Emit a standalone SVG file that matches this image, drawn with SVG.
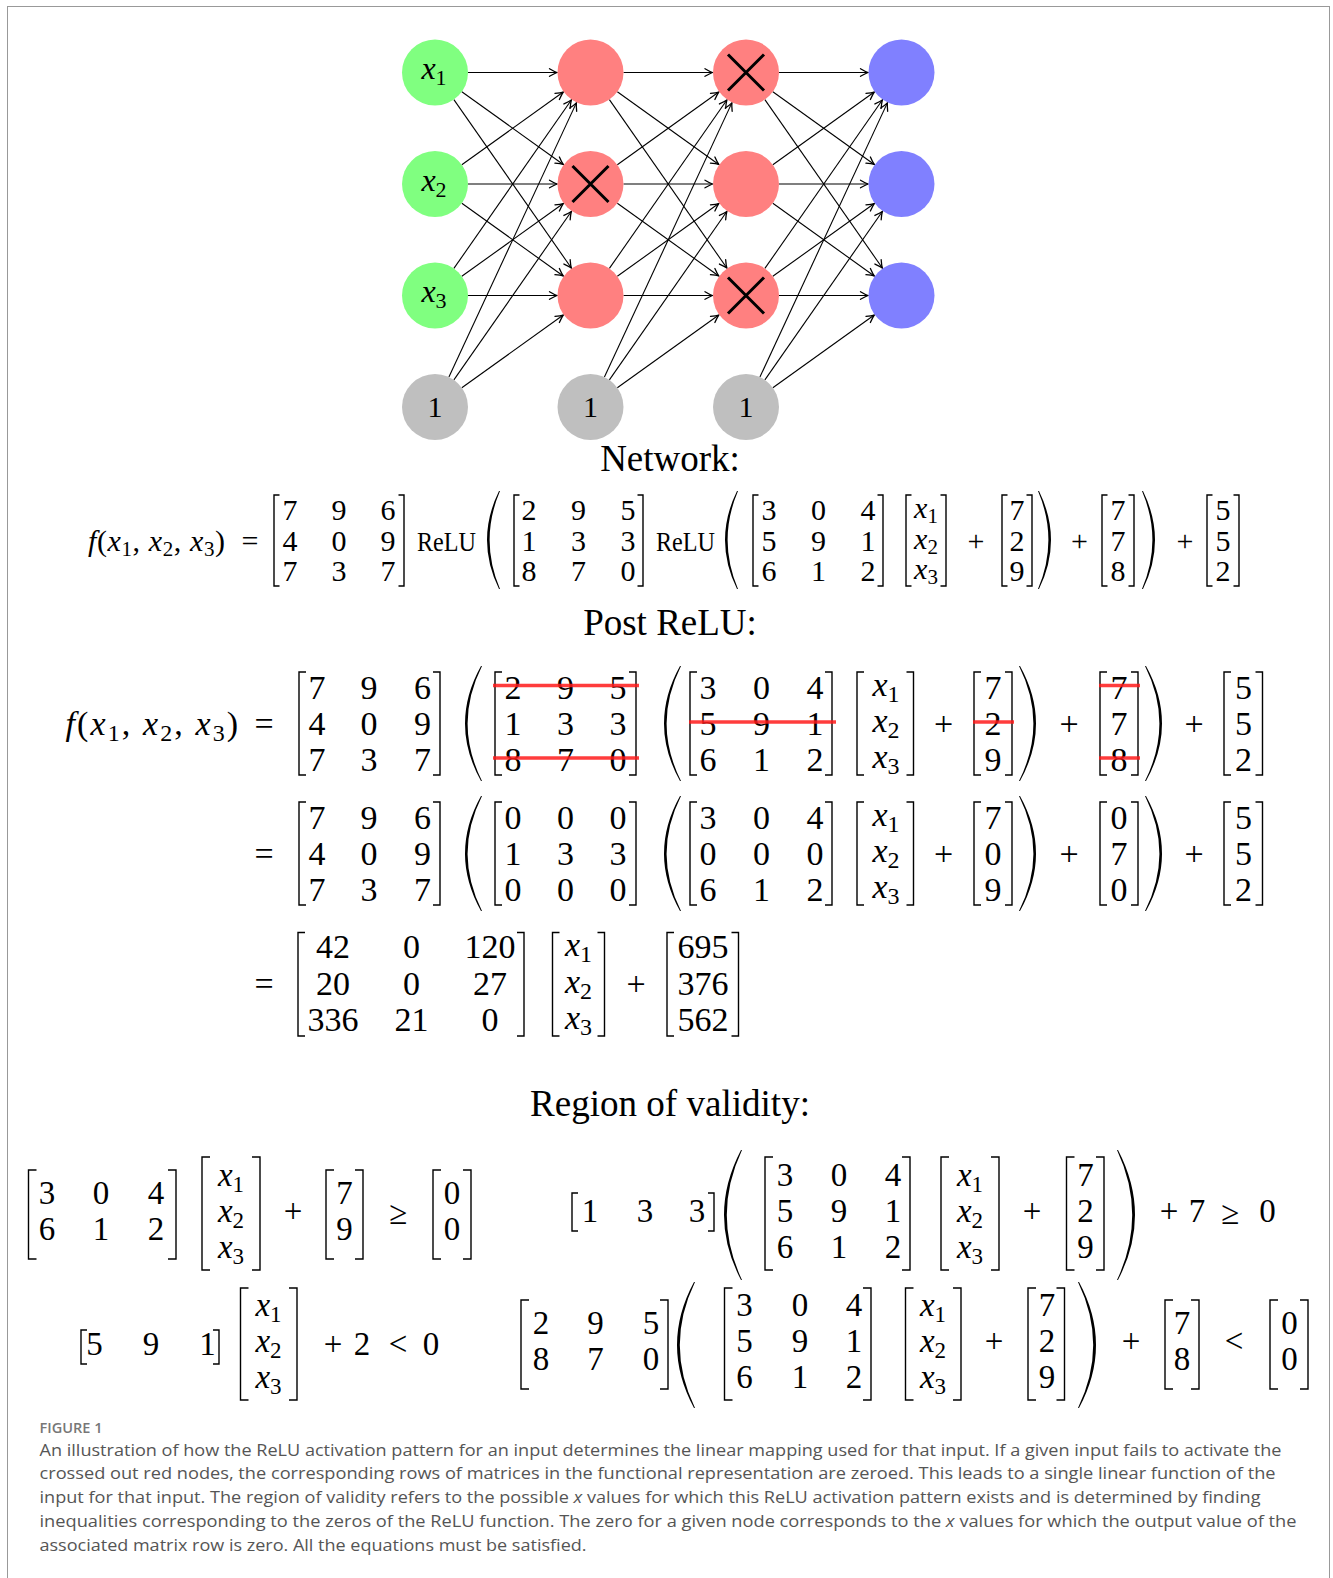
<svg xmlns="http://www.w3.org/2000/svg" width="1333" height="1578" viewBox="0 0 1333 1578">
<defs>
<style>
text{font-family:"Liberation Serif","DejaVu Serif",serif;fill:#000}
.c{text-anchor:middle}
.i{font-style:italic}
.e1{font-size:30px}
.e2{font-size:34px}
.e3{font-size:33px}
.s1{font-size:21px}
.s2{font-size:24px}
.s3{font-size:23px}
.nl{font-size:32px}
.ns{font-size:22px}
.t{font-size:37px;text-anchor:middle}
.br{fill:none;stroke:#000;stroke-width:1.4}
.pa{fill:#000;stroke:none}
.rl{stroke:#ff1a1a;stroke-opacity:.85;stroke-width:3.6}
.ed{stroke:#000;stroke-width:1.1;marker-end:url(#ah)}
.xm{stroke:#000;stroke-width:3}
.cap{font-family:"Open Sans","Noto Sans",sans-serif;font-size:17px;fill:#555}
.fig{font-family:"Open Sans","Noto Sans",sans-serif;font-size:14px;font-weight:600;fill:#777}
</style>
<marker id="ah" viewBox="-9 -5 10 10" refX="0" refY="0" markerWidth="10" markerHeight="10" markerUnits="userSpaceOnUse" orient="auto" overflow="visible">
<path d="M-7.5,-3.8 Q-2.6,-0.9 0,0 Q-2.6,0.9 -7.5,3.8" fill="none" stroke="#000" stroke-width="1.3" stroke-linecap="round"/>
</marker>
</defs>
<rect x="0" y="0" width="1333" height="1578" fill="#fff"/>
<rect x="7.5" y="6.5" width="1322" height="1600" fill="none" stroke="#999" stroke-width="1"/>

<g id="connectors">
<line class="ed" x1="468" y1="72.5" x2="557" y2="72.5"/>
<line class="ed" x1="461.82" y1="91.73" x2="563.27" y2="164.48"/>
<line class="ed" x1="453.88" y1="99.57" x2="571.34" y2="268.02"/>
<line class="ed" x1="461.82" y1="164.77" x2="563.27" y2="92.02"/>
<line class="ed" x1="468" y1="184" x2="557" y2="184"/>
<line class="ed" x1="461.82" y1="203.23" x2="563.27" y2="275.98"/>
<line class="ed" x1="453.88" y1="268.43" x2="571.34" y2="99.98"/>
<line class="ed" x1="461.82" y1="276.27" x2="563.27" y2="203.52"/>
<line class="ed" x1="468" y1="295.5" x2="557" y2="295.5"/>
<line class="ed" x1="448.91" y1="377.08" x2="576.38" y2="102.88"/>
<line class="ed" x1="453.88" y1="379.93" x2="571.34" y2="211.48"/>
<line class="ed" x1="461.82" y1="387.77" x2="563.27" y2="315.02"/>

<line class="ed" x1="623.5" y1="72.5" x2="712.5" y2="72.5"/>
<line class="ed" x1="617.32" y1="91.73" x2="718.77" y2="164.48"/>
<line class="ed" x1="609.38" y1="99.57" x2="726.84" y2="268.02"/>
<line class="ed" x1="617.32" y1="164.77" x2="718.77" y2="92.02"/>
<line class="ed" x1="623.5" y1="184" x2="712.5" y2="184"/>
<line class="ed" x1="617.32" y1="203.23" x2="718.77" y2="275.98"/>
<line class="ed" x1="609.38" y1="268.43" x2="726.84" y2="99.98"/>
<line class="ed" x1="617.32" y1="276.27" x2="718.77" y2="203.52"/>
<line class="ed" x1="623.5" y1="295.5" x2="712.5" y2="295.5"/>
<line class="ed" x1="604.41" y1="377.08" x2="731.88" y2="102.88"/>
<line class="ed" x1="609.38" y1="379.93" x2="726.84" y2="211.48"/>
<line class="ed" x1="617.32" y1="387.77" x2="718.77" y2="315.02"/>

<line class="ed" x1="779" y1="72.5" x2="868" y2="72.5"/>
<line class="ed" x1="772.82" y1="91.73" x2="874.27" y2="164.48"/>
<line class="ed" x1="764.88" y1="99.57" x2="882.34" y2="268.02"/>
<line class="ed" x1="772.82" y1="164.77" x2="874.27" y2="92.02"/>
<line class="ed" x1="779" y1="184" x2="868" y2="184"/>
<line class="ed" x1="772.82" y1="203.23" x2="874.27" y2="275.98"/>
<line class="ed" x1="764.88" y1="268.43" x2="882.34" y2="99.98"/>
<line class="ed" x1="772.82" y1="276.27" x2="874.27" y2="203.52"/>
<line class="ed" x1="779" y1="295.5" x2="868" y2="295.5"/>
<line class="ed" x1="759.91" y1="377.08" x2="887.38" y2="102.88"/>
<line class="ed" x1="764.88" y1="379.93" x2="882.34" y2="211.48"/>
<line class="ed" x1="772.82" y1="387.77" x2="874.27" y2="315.02"/>
</g>

<g id="in1"><circle cx="435" cy="72.5" r="33" fill="#80ff80"/><text class="nl c" x="434" y="79"><tspan class="i">x</tspan><tspan class="ns" dy="6">1</tspan></text></g>
<g id="in2"><circle cx="435" cy="184" r="33" fill="#80ff80"/><text class="nl c" x="434" y="190.5"><tspan class="i">x</tspan><tspan class="ns" dy="6">2</tspan></text></g>
<g id="in3"><circle cx="435" cy="295.5" r="33" fill="#80ff80"/><text class="nl c" x="434" y="302"><tspan class="i">x</tspan><tspan class="ns" dy="6">3</tspan></text></g>
<g id="bias1"><circle cx="435" cy="407" r="33" fill="#bfbfbf"/><text class="e1 c" x="435" y="417">1</text></g>

<g id="h1a"><circle cx="590.5" cy="72.5" r="33" fill="#ff8080"/></g>
<g id="h1b"><circle cx="590.5" cy="184" r="33" fill="#ff8080"/><path class="xm" d="M572.5,166L608.5,202M608.5,166L572.5,202"/></g>
<g id="h1c"><circle cx="590.5" cy="295.5" r="33" fill="#ff8080"/></g>
<g id="bias2"><circle cx="590.5" cy="407" r="33" fill="#bfbfbf"/><text class="e1 c" x="590.5" y="417">1</text></g>

<g id="h2a"><circle cx="746" cy="72.5" r="33" fill="#ff8080"/><path class="xm" d="M728,54.5L764,90.5M764,54.5L728,90.5"/></g>
<g id="h2b"><circle cx="746" cy="184" r="33" fill="#ff8080"/></g>
<g id="h2c"><circle cx="746" cy="295.5" r="33" fill="#ff8080"/><path class="xm" d="M728,277.5L764,313.5M764,277.5L728,313.5"/></g>
<g id="bias3"><circle cx="746" cy="407" r="33" fill="#bfbfbf"/><text class="e1 c" x="746" y="417">1</text></g>

<g id="out1"><circle cx="901.5" cy="72.5" r="33" fill="#8080ff"/></g>
<g id="out2"><circle cx="901.5" cy="184" r="33" fill="#8080ff"/></g>
<g id="out3"><circle cx="901.5" cy="295.5" r="33" fill="#8080ff"/></g>

<text class="t" x="670" y="471">Network:</text>

<!-- Equation 1 -->
<g id="eq1">
<text class="e1" x="88" y="550.5" letter-spacing="0.6"><tspan class="i">f</tspan>(<tspan class="i">x</tspan><tspan class="s1" dy="5">1</tspan><tspan dy="-5">, </tspan><tspan class="i">x</tspan><tspan class="s1" dy="5">2</tspan><tspan dy="-5">, </tspan><tspan class="i">x</tspan><tspan class="s1" dy="5">3</tspan><tspan dy="-5">)</tspan></text>
<text class="e1 c" x="250" y="550.5">=</text>
<path class="br" d="M279.5,495H274V586H279.5M398.5,495H404V586H398.5"/>
<text class="e1 c" y="520"><tspan x="290">7</tspan><tspan x="339">9</tspan><tspan x="388">6</tspan></text>
<text class="e1 c" y="550.5"><tspan x="290">4</tspan><tspan x="339">0</tspan><tspan x="388">9</tspan></text>
<text class="e1 c" y="581"><tspan x="290">7</tspan><tspan x="339">3</tspan><tspan x="388">7</tspan></text>
<text x="417" y="550.5" font-size="27" textLength="59" lengthAdjust="spacingAndGlyphs">ReLU</text>
<path class="pa" d="M499,491Q475,540 499,589L500,589Q479.2,540 500,491Z"/>
<path class="br" d="M519.5,495H514V586H519.5M637.5,495H643V586H637.5"/>
<text class="e1 c" y="520"><tspan x="529">2</tspan><tspan x="578.5">9</tspan><tspan x="628">5</tspan></text>
<text class="e1 c" y="550.5"><tspan x="529">1</tspan><tspan x="578.5">3</tspan><tspan x="628">3</tspan></text>
<text class="e1 c" y="581"><tspan x="529">8</tspan><tspan x="578.5">7</tspan><tspan x="628">0</tspan></text>
<text x="656" y="550.5" font-size="27" textLength="59" lengthAdjust="spacingAndGlyphs">ReLU</text>
<path class="pa" d="M737,491Q713,540 737,589L738,589Q717.2,540 738,491Z"/>
<path class="br" d="M758.5,495H753V586H758.5M877.5,495H883V586H877.5"/>
<text class="e1 c" y="520"><tspan x="769">3</tspan><tspan x="818.5">0</tspan><tspan x="868">4</tspan></text>
<text class="e1 c" y="550.5"><tspan x="769">5</tspan><tspan x="818.5">9</tspan><tspan x="868">1</tspan></text>
<text class="e1 c" y="581"><tspan x="769">6</tspan><tspan x="818.5">1</tspan><tspan x="868">2</tspan></text>
<path class="br" d="M911.5,495H906V586H911.5M940.5,495H946V586H940.5"/>
<text class="e1 c" x="926" y="518"><tspan class="i">x</tspan><tspan class="s1" dy="5">1</tspan></text>
<text class="e1 c" x="926" y="548.5"><tspan class="i">x</tspan><tspan class="s1" dy="5">2</tspan></text>
<text class="e1 c" x="926" y="579"><tspan class="i">x</tspan><tspan class="s1" dy="5">3</tspan></text>
<text class="e1 c" x="976" y="550.5">+</text>
<path class="br" d="M1007.5,495H1002V586H1007.5M1026.5,495H1032V586H1026.5"/>
<text class="e1 c" x="1017" y="520">7</text><text class="e1 c" x="1017" y="550.5">2</text><text class="e1 c" x="1017" y="581">9</text>
<path class="pa" d="M1039,491Q1063,540 1039,589L1038,589Q1058.8,540 1038,491Z"/>
<text class="e1 c" x="1079.5" y="550.5">+</text>
<path class="br" d="M1107.5,495H1102V586H1107.5M1128.5,495H1134V586H1128.5"/>
<text class="e1 c" x="1118" y="520">7</text><text class="e1 c" x="1118" y="550.5">7</text><text class="e1 c" x="1118" y="581">8</text>
<path class="pa" d="M1143,491Q1167,540 1143,589L1142,589Q1162.8,540 1142,491Z"/>
<text class="e1 c" x="1185" y="550.5">+</text>
<path class="br" d="M1212.5,495H1207V586H1212.5M1233.5,495H1239V586H1233.5"/>
<text class="e1 c" x="1223" y="520">5</text><text class="e1 c" x="1223" y="550.5">5</text><text class="e1 c" x="1223" y="581">2</text>
</g>

<text class="t" x="670" y="635">Post ReLU:</text>

<!-- Equation 2 -->
<g id="eq2">
<text class="e2" x="65.5" y="734.5" letter-spacing="2.1"><tspan class="i">f</tspan>(<tspan class="i">x</tspan><tspan class="s2" dy="6">1</tspan><tspan dy="-6">, </tspan><tspan class="i">x</tspan><tspan class="s2" dy="6">2</tspan><tspan dy="-6">, </tspan><tspan class="i">x</tspan><tspan class="s2" dy="6">3</tspan><tspan dy="-6">)</tspan></text>
<text class="e2 c" x="264" y="734.5">=</text>
<path class="br" d="M306,672H299V775H306M433,672H440V775H433"/>
<text class="e2 c" y="698.5"><tspan x="317">7</tspan><tspan x="369">9</tspan><tspan x="422.5">6</tspan></text>
<text class="e2 c" y="734.5"><tspan x="317">4</tspan><tspan x="369">0</tspan><tspan x="422.5">9</tspan></text>
<text class="e2 c" y="770.5"><tspan x="317">7</tspan><tspan x="369">3</tspan><tspan x="422.5">7</tspan></text>
<path class="pa" d="M481,666Q449,723.5 481,781L482,781Q453.2,723.5 482,666Z"/>
<path class="br" d="M502,672H495V775H502M629,672H636V775H629"/>
<text class="e2 c" y="698.5"><tspan x="513">2</tspan><tspan x="565.5">9</tspan><tspan x="618">5</tspan></text>
<text class="e2 c" y="734.5"><tspan x="513">1</tspan><tspan x="565.5">3</tspan><tspan x="618">3</tspan></text>
<text class="e2 c" y="770.5"><tspan x="513">8</tspan><tspan x="565.5">7</tspan><tspan x="618">0</tspan></text>
<path class="pa" d="M680,666Q648,723.5 680,781L681,781Q652.2,723.5 681,666Z"/>
<path class="br" d="M697,672H690V775H697M825,672H832V775H825"/>
<text class="e2 c" y="698.5"><tspan x="708">3</tspan><tspan x="761.5">0</tspan><tspan x="815">4</tspan></text>
<text class="e2 c" y="734.5"><tspan x="708">5</tspan><tspan x="761.5">9</tspan><tspan x="815">1</tspan></text>
<text class="e2 c" y="770.5"><tspan x="708">6</tspan><tspan x="761.5">1</tspan><tspan x="815">2</tspan></text>
<path class="br" d="M864,672H857V775H864M906.5,672H913.5V775H906.5"/>
<text class="e2 c" x="886" y="696"><tspan class="i">x</tspan><tspan class="s2" dy="6">1</tspan></text>
<text class="e2 c" x="886" y="732"><tspan class="i">x</tspan><tspan class="s2" dy="6">2</tspan></text>
<text class="e2 c" x="886" y="768"><tspan class="i">x</tspan><tspan class="s2" dy="6">3</tspan></text>
<text class="e2 c" x="943.5" y="734.5">+</text>
<path class="br" d="M981,672H974V775H981M1005,672H1012V775H1005"/>
<text class="e2 c" x="993" y="698.5">7</text><text class="e2 c" x="993" y="734.5">2</text><text class="e2 c" x="993" y="770.5">9</text>
<path class="pa" d="M1020,666Q1052,723.5 1020,781L1019,781Q1047.8,723.5 1019,666Z"/>
<text class="e2 c" x="1069" y="734.5">+</text>
<path class="br" d="M1107,672H1100V775H1107M1131,672H1138V775H1131"/>
<text class="e2 c" x="1119" y="698.5">7</text><text class="e2 c" x="1119" y="734.5">7</text><text class="e2 c" x="1119" y="770.5">8</text>
<path class="pa" d="M1146,666Q1178,723.5 1146,781L1145,781Q1173.8,723.5 1145,666Z"/>
<text class="e2 c" x="1194" y="734.5">+</text>
<path class="br" d="M1231,672H1224V775H1231M1255.5,672H1262.5V775H1255.5"/>
<text class="e2 c" x="1243.5" y="698.5">5</text><text class="e2 c" x="1243.5" y="734.5">5</text><text class="e2 c" x="1243.5" y="770.5">2</text>
<line class="rl" x1="493" y1="685.5" x2="639" y2="685.5"/>
<line class="rl" x1="493" y1="758" x2="639" y2="758"/>
<line class="rl" x1="689" y1="722" x2="836" y2="722"/>
<line class="rl" x1="973" y1="722" x2="1014" y2="722"/>
<line class="rl" x1="1099" y1="685.5" x2="1140" y2="685.5"/>
<line class="rl" x1="1099" y1="758" x2="1140" y2="758"/>
</g>

<!-- Equation 3 -->
<g id="eq3">
<text class="e2 c" x="264" y="864.5">=</text>
<path class="br" d="M306,802H299V905H306M433,802H440V905H433"/>
<text class="e2 c" y="828.5"><tspan x="317">7</tspan><tspan x="369">9</tspan><tspan x="422.5">6</tspan></text>
<text class="e2 c" y="864.5"><tspan x="317">4</tspan><tspan x="369">0</tspan><tspan x="422.5">9</tspan></text>
<text class="e2 c" y="900.5"><tspan x="317">7</tspan><tspan x="369">3</tspan><tspan x="422.5">7</tspan></text>
<path class="pa" d="M481,796Q449,853.5 481,911L482,911Q453.2,853.5 482,796Z"/>
<path class="br" d="M502,802H495V905H502M629,802H636V905H629"/>
<text class="e2 c" y="828.5"><tspan x="513">0</tspan><tspan x="565.5">0</tspan><tspan x="618">0</tspan></text>
<text class="e2 c" y="864.5"><tspan x="513">1</tspan><tspan x="565.5">3</tspan><tspan x="618">3</tspan></text>
<text class="e2 c" y="900.5"><tspan x="513">0</tspan><tspan x="565.5">0</tspan><tspan x="618">0</tspan></text>
<path class="pa" d="M680,796Q648,853.5 680,911L681,911Q652.2,853.5 681,796Z"/>
<path class="br" d="M697,802H690V905H697M825,802H832V905H825"/>
<text class="e2 c" y="828.5"><tspan x="708">3</tspan><tspan x="761.5">0</tspan><tspan x="815">4</tspan></text>
<text class="e2 c" y="864.5"><tspan x="708">0</tspan><tspan x="761.5">0</tspan><tspan x="815">0</tspan></text>
<text class="e2 c" y="900.5"><tspan x="708">6</tspan><tspan x="761.5">1</tspan><tspan x="815">2</tspan></text>
<path class="br" d="M864,802H857V905H864M906.5,802H913.5V905H906.5"/>
<text class="e2 c" x="886" y="826"><tspan class="i">x</tspan><tspan class="s2" dy="6">1</tspan></text>
<text class="e2 c" x="886" y="862"><tspan class="i">x</tspan><tspan class="s2" dy="6">2</tspan></text>
<text class="e2 c" x="886" y="898"><tspan class="i">x</tspan><tspan class="s2" dy="6">3</tspan></text>
<text class="e2 c" x="943.5" y="864.5">+</text>
<path class="br" d="M981,802H974V905H981M1005,802H1012V905H1005"/>
<text class="e2 c" x="993" y="828.5">7</text><text class="e2 c" x="993" y="864.5">0</text><text class="e2 c" x="993" y="900.5">9</text>
<path class="pa" d="M1020,796Q1052,853.5 1020,911L1019,911Q1047.8,853.5 1019,796Z"/>
<text class="e2 c" x="1069" y="864.5">+</text>
<path class="br" d="M1107,802H1100V905H1107M1131,802H1138V905H1131"/>
<text class="e2 c" x="1119" y="828.5">0</text><text class="e2 c" x="1119" y="864.5">7</text><text class="e2 c" x="1119" y="900.5">0</text>
<path class="pa" d="M1146,796Q1178,853.5 1146,911L1145,911Q1173.8,853.5 1145,796Z"/>
<text class="e2 c" x="1194" y="864.5">+</text>
<path class="br" d="M1231,802H1224V905H1231M1255.5,802H1262.5V905H1255.5"/>
<text class="e2 c" x="1243.5" y="828.5">5</text><text class="e2 c" x="1243.5" y="864.5">5</text><text class="e2 c" x="1243.5" y="900.5">2</text>
</g>

<!-- Equation 4 -->
<g id="eq4">
<text class="e2 c" x="264" y="994.5">=</text>
<path class="br" d="M305,932.5H298V1036H305M517,932.5H524V1036H517"/>
<text class="e2 c" y="958"><tspan x="333">42</tspan><tspan x="411.5">0</tspan><tspan x="490">120</tspan></text>
<text class="e2 c" y="994.5"><tspan x="333">20</tspan><tspan x="411.5">0</tspan><tspan x="490">27</tspan></text>
<text class="e2 c" y="1031"><tspan x="333">336</tspan><tspan x="411.5">21</tspan><tspan x="490">0</tspan></text>
<path class="br" d="M559.5,932.5H552.5V1036H559.5M597.5,932.5H604.5V1036H597.5"/>
<text class="e2 c" x="578.5" y="956"><tspan class="i">x</tspan><tspan class="s2" dy="6">1</tspan></text>
<text class="e2 c" x="578.5" y="992.5"><tspan class="i">x</tspan><tspan class="s2" dy="6">2</tspan></text>
<text class="e2 c" x="578.5" y="1029"><tspan class="i">x</tspan><tspan class="s2" dy="6">3</tspan></text>
<text class="e2 c" x="636" y="994.5">+</text>
<path class="br" d="M674,932.5H667V1036H674M731.5,932.5H738.5V1036H731.5"/>
<text class="e2 c" x="703" y="958">695</text><text class="e2 c" x="703" y="994.5">376</text><text class="e2 c" x="703" y="1031">562</text>
</g>

<text class="t" x="670" y="1116" textLength="280" lengthAdjust="spacingAndGlyphs">Region of validity:</text>

<!-- Region L1 -->
<g id="regL1">
<path class="br" d="M36.5,1170H28.5V1259H36.5M168,1170H176V1259H168"/>
<text class="e3 c" y="1204"><tspan x="47">3</tspan><tspan x="101">0</tspan><tspan x="156">4</tspan></text>
<text class="e3 c" y="1240"><tspan x="47">6</tspan><tspan x="101">1</tspan><tspan x="156">2</tspan></text>
<path class="br" d="M210,1157H202V1270H210M252,1157H260V1270H252"/>
<text class="e3 c" x="231" y="1186"><tspan class="i">x</tspan><tspan class="s3" dy="6">1</tspan></text>
<text class="e3 c" x="231" y="1222"><tspan class="i">x</tspan><tspan class="s3" dy="6">2</tspan></text>
<text class="e3 c" x="231" y="1258"><tspan class="i">x</tspan><tspan class="s3" dy="6">3</tspan></text>
<text class="e3 c" x="293" y="1222">+</text>
<path class="br" d="M334,1170H326V1259H334M355,1170H363V1259H355"/>
<text class="e3 c" x="344.5" y="1204">7</text><text class="e3 c" x="344.5" y="1240">9</text>
<text class="e3 c" x="398" y="1224">≥</text>
<path class="br" d="M441,1170H433V1259H441M463,1170H471V1259H463"/>
<text class="e3 c" x="452" y="1204">0</text><text class="e3 c" x="452" y="1240">0</text>
</g>

<!-- Region L2 -->
<g id="regL2">
<path class="br" d="M87,1330H81V1364H87M213,1330H219V1364H213"/>
<text class="e3 c" y="1355"><tspan x="94.5">5</tspan><tspan x="151">9</tspan><tspan x="207.5">1</tspan></text>
<path class="br" d="M248.5,1288H240.5V1400H248.5M289,1288H297V1400H289"/>
<text class="e3 c" x="268.5" y="1316"><tspan class="i">x</tspan><tspan class="s3" dy="6">1</tspan></text>
<text class="e3 c" x="268.5" y="1352"><tspan class="i">x</tspan><tspan class="s3" dy="6">2</tspan></text>
<text class="e3 c" x="268.5" y="1388"><tspan class="i">x</tspan><tspan class="s3" dy="6">3</tspan></text>
<text class="e3 c" x="333" y="1355">+</text>
<text class="e3 c" x="362" y="1355">2</text>
<text class="e3 c" x="398" y="1355">&lt;</text>
<text class="e3 c" x="431" y="1355">0</text>
</g>

<!-- Region R1 -->
<g id="regR1">
<path class="br" d="M578,1193H572V1231H578M708,1193H714V1231H708"/>
<text class="e3 c" y="1222"><tspan x="590">1</tspan><tspan x="645">3</tspan><tspan x="697">3</tspan></text>
<path class="pa" d="M741,1150Q707,1215 741,1280L742,1280Q711.6,1215 742,1150Z"/>
<path class="br" d="M773,1157H765V1270H773M902,1157H910V1270H902"/>
<text class="e3 c" y="1186"><tspan x="785">3</tspan><tspan x="839">0</tspan><tspan x="893">4</tspan></text>
<text class="e3 c" y="1222"><tspan x="785">5</tspan><tspan x="839">9</tspan><tspan x="893">1</tspan></text>
<text class="e3 c" y="1258"><tspan x="785">6</tspan><tspan x="839">1</tspan><tspan x="893">2</tspan></text>
<path class="br" d="M949,1157H941V1270H949M991,1157H999V1270H991"/>
<text class="e3 c" x="970" y="1186"><tspan class="i">x</tspan><tspan class="s3" dy="6">1</tspan></text>
<text class="e3 c" x="970" y="1222"><tspan class="i">x</tspan><tspan class="s3" dy="6">2</tspan></text>
<text class="e3 c" x="970" y="1258"><tspan class="i">x</tspan><tspan class="s3" dy="6">3</tspan></text>
<text class="e3 c" x="1032" y="1222">+</text>
<path class="br" d="M1074.5,1157H1066.5V1270H1074.5M1096,1157H1104V1270H1096"/>
<text class="e3 c" x="1085.5" y="1186">7</text><text class="e3 c" x="1085.5" y="1222">2</text><text class="e3 c" x="1085.5" y="1258">9</text>
<path class="pa" d="M1118,1150Q1152,1215 1118,1280L1117,1280Q1147.4,1215 1117,1150Z"/>
<text class="e3 c" x="1169" y="1222">+</text>
<text class="e3 c" x="1197" y="1222">7</text>
<text class="e3 c" x="1230" y="1224">≥</text>
<text class="e3 c" x="1267.5" y="1222">0</text>
</g>

<!-- Region R2 -->
<g id="regR2">
<path class="br" d="M529,1300H521V1389H529M660,1300H668V1389H660"/>
<text class="e3 c" y="1334"><tspan x="541">2</tspan><tspan x="595.5">9</tspan><tspan x="651">5</tspan></text>
<text class="e3 c" y="1370"><tspan x="541">8</tspan><tspan x="595.5">7</tspan><tspan x="651">0</tspan></text>
<path class="pa" d="M694,1282Q660,1345 694,1408L695,1408Q664.6,1345 695,1282Z"/>
<path class="br" d="M732.5,1288H724.5V1400H732.5M863,1288H871V1400H863"/>
<text class="e3 c" y="1316"><tspan x="744.5">3</tspan><tspan x="800">0</tspan><tspan x="854">4</tspan></text>
<text class="e3 c" y="1352"><tspan x="744.5">5</tspan><tspan x="800">9</tspan><tspan x="854">1</tspan></text>
<text class="e3 c" y="1388"><tspan x="744.5">6</tspan><tspan x="800">1</tspan><tspan x="854">2</tspan></text>
<path class="br" d="M913.5,1288H905.5V1400H913.5M953,1288H961V1400H953"/>
<text class="e3 c" x="933" y="1316"><tspan class="i">x</tspan><tspan class="s3" dy="6">1</tspan></text>
<text class="e3 c" x="933" y="1352"><tspan class="i">x</tspan><tspan class="s3" dy="6">2</tspan></text>
<text class="e3 c" x="933" y="1388"><tspan class="i">x</tspan><tspan class="s3" dy="6">3</tspan></text>
<text class="e3 c" x="994" y="1352">+</text>
<path class="br" d="M1036,1288H1028V1400H1036M1056.5,1288H1064.5V1400H1056.5"/>
<text class="e3 c" x="1047" y="1316">7</text><text class="e3 c" x="1047" y="1352">2</text><text class="e3 c" x="1047" y="1388">9</text>
<path class="pa" d="M1079,1282Q1113,1345 1079,1408L1078,1408Q1108.4,1345 1078,1282Z"/>
<text class="e3 c" x="1131" y="1352">+</text>
<path class="br" d="M1173,1300H1165V1389H1173M1191,1300H1199V1389H1191"/>
<text class="e3 c" x="1182" y="1334">7</text><text class="e3 c" x="1182" y="1370">8</text>
<text class="e3 c" x="1234" y="1352">&lt;</text>
<path class="br" d="M1278,1300H1270V1389H1278M1300,1300H1308V1389H1300"/>
<text class="e3 c" x="1289.5" y="1334">0</text><text class="e3 c" x="1289.5" y="1370">0</text>
</g>

<!-- Caption -->
<g id="caption">
<text class="fig" x="39.5" y="1432.5" textLength="63" lengthAdjust="spacingAndGlyphs">FIGURE 1</text>
<text class="cap" x="39.5" y="1455.5" textLength="1242" lengthAdjust="spacingAndGlyphs">An illustration of how the ReLU activation pattern for an input determines the linear mapping used for that input. If a given input fails to activate the</text>
<text class="cap" x="39.5" y="1479.4" textLength="1236" lengthAdjust="spacingAndGlyphs">crossed out red nodes, the corresponding rows of matrices in the functional representation are zeroed. This leads to a single linear function of the</text>
<text class="cap" x="39.5" y="1503.3" textLength="1221" lengthAdjust="spacingAndGlyphs">input for that input. The region of validity refers to the possible <tspan font-style="italic">x</tspan> values for which this ReLU activation pattern exists and is determined by finding</text>
<text class="cap" x="39.5" y="1527.2" textLength="1257" lengthAdjust="spacingAndGlyphs">inequalities corresponding to the zeros of the ReLU function. The zero for a given node corresponds to the <tspan font-style="italic">x</tspan> values for which the output value of the</text>
<text class="cap" x="39.5" y="1551.1" textLength="547" lengthAdjust="spacingAndGlyphs">associated matrix row is zero. All the equations must be satisfied.</text>
</g>
</svg>
